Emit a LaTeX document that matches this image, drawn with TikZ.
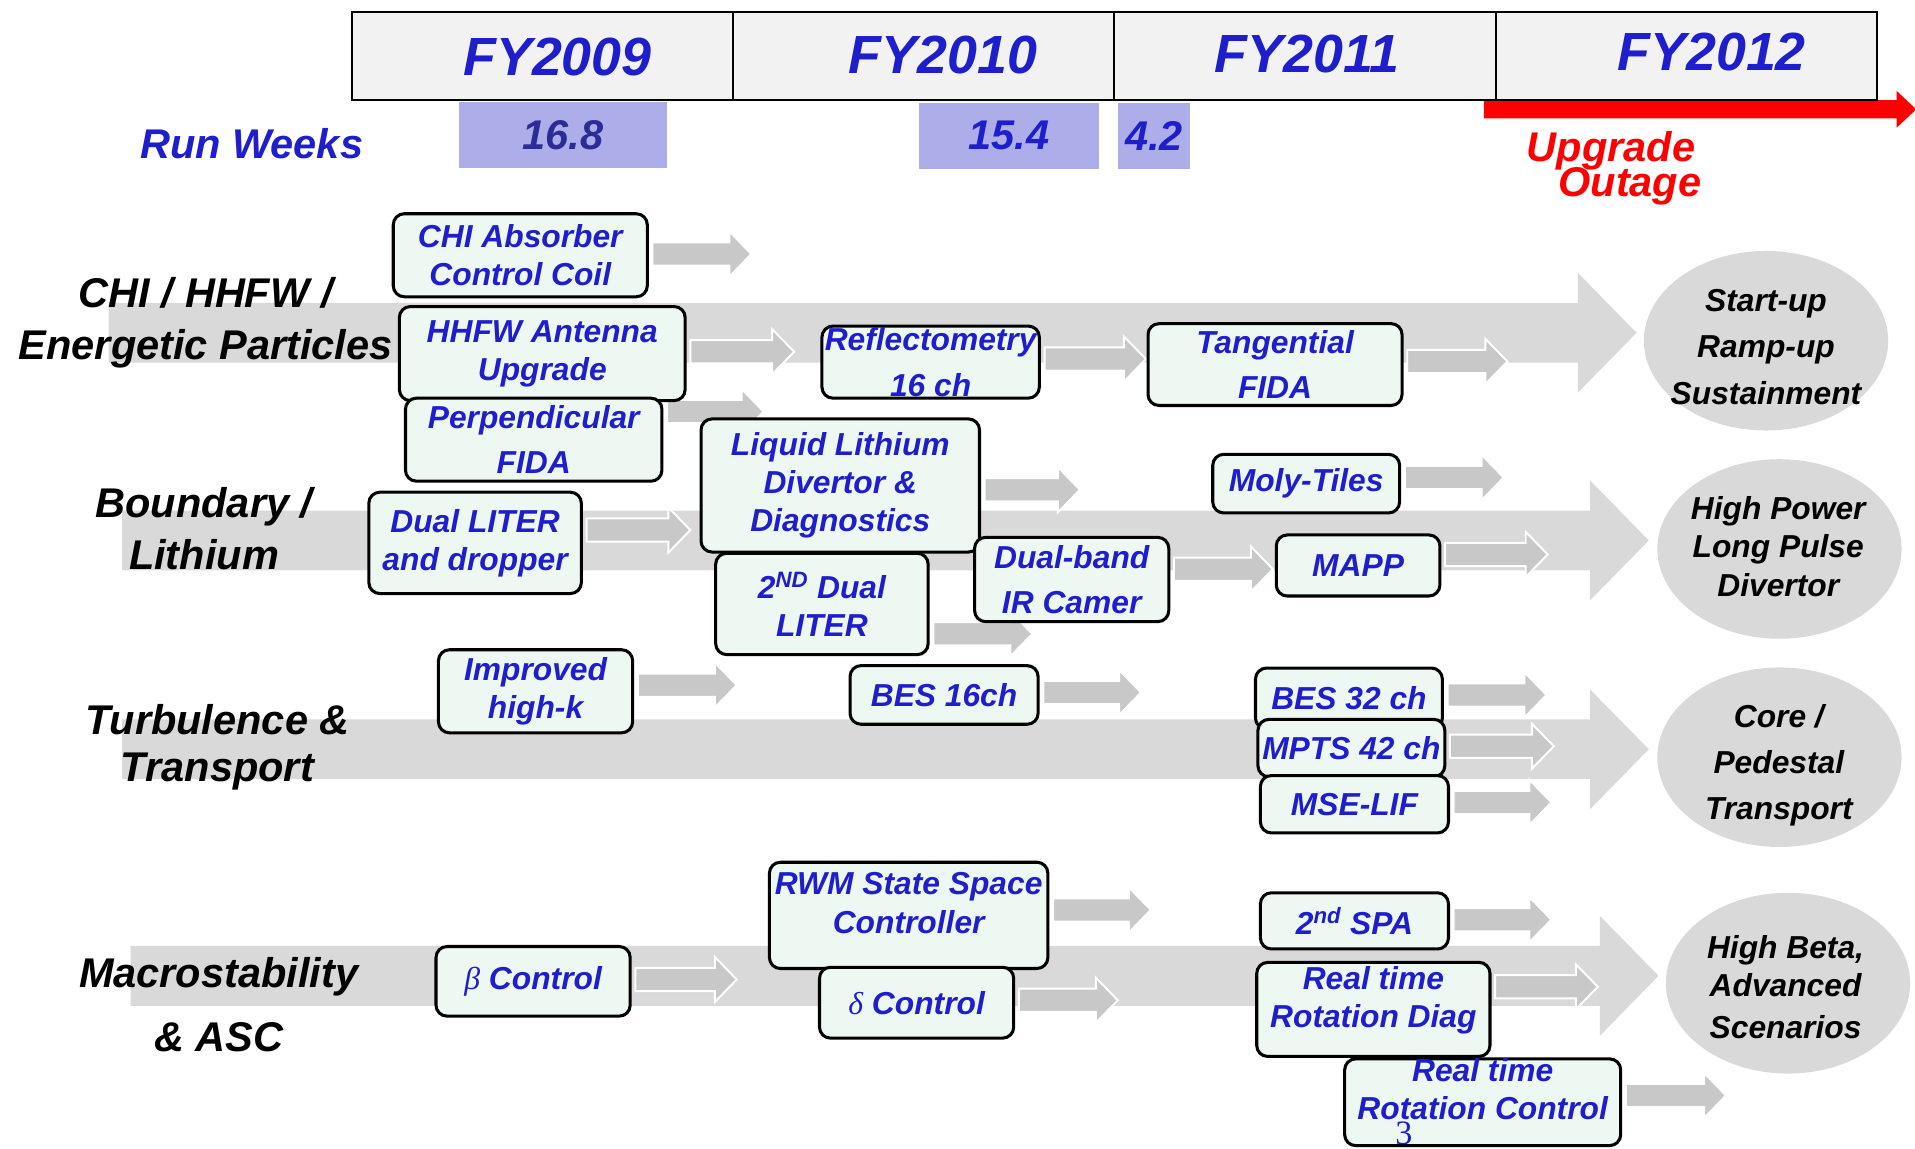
\documentclass[tikz,border=0pt]{standalone}
\usepackage{fontspec}
\setmainfont{Liberation Sans}
\newfontfamily\symbolfont{Liberation Serif}
\usepackage{xcolor}
\usepackage{tikz}
\usetikzlibrary{calc, backgrounds, shapes.geometric}

\definecolor{textblue}{RGB}{30,30,204}
\definecolor{weekblue}{RGB}{44,44,150}
\definecolor{weekfill}{RGB}{173,173,234}
\definecolor{headfill}{RGB}{242,242,242}
\definecolor{boxfill}{RGB}{238,248,242}
\definecolor{bandgray}{RGB}{217,217,217}
\definecolor{flowgray}{RGB}{200,200,200}
\definecolor{goalgray}{RGB}{217,217,217}

\tikzset{
  infobox/.style={draw=black, line width=2.5pt, fill=boxfill, rounded corners=9pt,
    inner sep=0pt, align=center, text=textblue,
    font=\bfseries\itshape\fontsize{26}{31}\selectfont},
  goal/.style={ellipse, fill=goalgray, inner sep=0pt},
  goaltext/.style={align=center, font=\bfseries\itshape\fontsize{26}{31.4}\selectfont},
  rowlabel/.style={align=center, font=\bfseries\itshape\fontsize{34}{42.4}\selectfont},
  fycell/.style={draw=black, line width=2pt, fill=headfill, minimum height=72pt, inner sep=0pt},
  fytext/.style={anchor=base, text=textblue, font=\bfseries\itshape\fontsize{44}{50}\selectfont},
  weekbox/.style={fill=weekfill, inner sep=0pt, minimum height=54pt,
    font=\bfseries\itshape\fontsize{34}{40}\selectfont},
  flowarr/.style={fill=flowgray, draw=white, line width=1.6pt},
}

% small grey block arrow: tail point, length
\newcommand{\flowarrow}[2]{%
  \filldraw[flowarr] #1 ++(0,-9.5) -- ++({#2-18},0) -- ++(0,-9) -- ++(18,18.5)
    -- ++(-18,18.5) -- ++(0,-9) -- ++({18-#2},0) -- cycle;}
% wide grey band: start x, axis y, tip x
\newcommand{\stageband}[3]{%
  \fill[bandgray] (#1,{#2-24.5}) -- ({#3-48},{#2-24.5}) -- ({#3-48},{#2-49}) -- (#3,#2)
    -- ({#3-48},{#2+49}) -- ({#3-48},{#2+24.5}) -- (#1,{#2+24.5}) -- cycle;}

\begin{document}
\begin{tikzpicture}[x=1pt, y=-1pt]
    \useasboundingbox (0,0) rectangle (1568,940);
    \clip (0,0) rectangle (1568,940);

    % boxes, row 1
    \node[infobox, minimum width=208pt, minimum height=68pt] (chiabs) at (426,209) {CHI Absorber\\Control Coil};
    \node[infobox, minimum width=234pt, minimum height=77pt] (hhfw) at (444,289.5) {HHFW Antenna\\Upgrade};
    \node[infobox, minimum width=210pt, minimum height=68pt] (perpfida) at (437,360) {Perpendicular\\[6pt]FIDA};
    \node[infobox, minimum width=178pt, minimum height=59pt] (reflect) at (762,296.5) {Reflectometry\\[6pt]16 ch};
    \node[infobox, minimum width=208pt, minimum height=67pt] (tangfida) at (1044,298.5) {Tangential\\[6pt]FIDA};

    % boxes, row 2
    \node[infobox, minimum width=174pt, minimum height=83pt] (dualliter) at (389,444.5) {Dual LITER\\and dropper};
    \node[infobox, minimum width=228pt, minimum height=109pt] (lldivertor) at (688,397.5) {Liquid Lithium\\Divertor \&\\Diagnostics};
    \node[infobox, minimum width=174pt, minimum height=83pt] (dualliter2) at (673,494.5) {2\textsuperscript{ND} Dual\\LITER};
    \node[infobox, minimum width=159pt, minimum height=69pt] (irband) at (877.5,474.5) {Dual-band\\[6pt]IR Camer};
    \node[infobox, minimum width=153pt, minimum height=48pt] (molytiles) at (1069.5,396) {Moly-Tiles};
    \node[infobox, minimum width=134pt, minimum height=50pt] (mapp) at (1112,463) {MAPP};

    % boxes, row 3
    \node[infobox, minimum width=159pt, minimum height=68pt] (highk) at (438.5,566) {Improved\\high-k};
    \node[infobox, minimum width=154pt, minimum height=48pt] (bes16) at (773,569) {BES 16ch};
    \node[infobox, minimum width=153pt, minimum height=50pt] (bes32) at (1104.5,572) {BES 32 ch};
    \node[infobox, minimum width=153pt, minimum height=47pt] (mpts) at (1106.5,612.5) {MPTS 42 ch};
    \node[infobox, minimum width=154pt, minimum height=47pt] (mself) at (1109,658.5) {MSE-LIF};

    % boxes, row 4
    \node[infobox, minimum width=159pt, minimum height=57pt] (betactrl) at (436.5,803.5) {{\symbolfont\mdseries\itshape β} Control};
    \node[infobox, minimum width=228pt, minimum height=87pt, text depth=21pt] (rwm) at (744,749.5) {RWM State Space\\[1pt]Controller};
    \node[infobox, minimum width=159pt, minimum height=58pt] (deltactrl) at (750.5,821) {{\symbolfont\mdseries\itshape δ} Control};
    \node[infobox, minimum width=154pt, minimum height=46pt] (spa2) at (1109,754) {2\textsuperscript{nd} SPA};
    \node[infobox, minimum width=191pt, minimum height=77pt, text depth=20pt] (rtdiag) at (1124.5,826.5) {Real time\\Rotation Diag};
    \node[infobox, minimum width=226pt, minimum height=71pt, text depth=21pt] (rtctrl) at (1214,902.5) {Real time\\Rotation Control};

    % bands and arrows behind the boxes
    \begin{pgfonlayer}{background}
        \stageband{89}{272.5}{1340}
        \stageband{100}{442.5}{1350}
        \stageband{100}{613.5}{1350}
        \stageband{107}{799}{1358}

        \flowarrow{($(chiabs.east)+(3,-1)$)}{81}
        \flowarrow{($(hhfw.east)+(3,-1.5)$)}{85}
        \flowarrow{($(perpfida.east)+(3,-23)$)}{79}
        \flowarrow{($(reflect.east)+(3,-2.5)$)}{83}
        \flowarrow{($(tangfida.east)+(3,-2.5)$)}{82}
        \flowarrow{($(dualliter.east)+(3,-10.5)$)}{85}
        \flowarrow{($(lldivertor.east)+(3,3.5)$)}{78}
        \flowarrow{($(dualliter2.east)+(3,24.5)$)}{81}
        \flowarrow{($(irband.east)+(3,-8.5)$)}{81}
        \flowarrow{($(molytiles.east)+(3,-5)$)}{81}
        \flowarrow{($(mapp.east)+(3,-9)$)}{84}
        \flowarrow{($(highk.east)+(3,-5)$)}{81}
        \flowarrow{($(bes16.east)+(3,-2)$)}{80}
        \flowarrow{($(bes32.east)+(3,-3)$)}{81}
        \flowarrow{($(mpts.east)+(3,-1.5)$)}{85}
        \flowarrow{($(mself.east)+(3,-1.5)$)}{80}
        \flowarrow{($(betactrl.east)+(3,-1.5)$)}{83}
        \flowarrow{($(rwm.east)+(3,-4.5)$)}{80}
        \flowarrow{($(deltactrl.east)+(3,-2)$)}{81}
        \flowarrow{($(spa2.east)+(3,-1)$)}{80}
        \flowarrow{($(rtdiag.east)+(3,-18.5)$)}{84}
        \flowarrow{($(rtctrl.east)+(3,-5.5)$)}{82}
    \end{pgfonlayer}

    % row labels
    \node[rowlabel] (lblchi) at (168.5,264.5) {CHI / HHFW /\\Energetic Particles};
    \node[rowlabel] (lblbound) at (167,433) {Boundary /\\Lithium};
    \node[rowlabel] (lblturb) at (178,611.5) {Turbulence \&\\[-4pt]Transport};
    \node[rowlabel] (lblmacro) at (179,822.5) {Macrostability\\[9.6pt]\& ASC};

    % goals
    \node[goal, minimum width=200pt, minimum height=147pt] (goalstart) at (1446,279) {};
    \node[goal, minimum width=200pt, minimum height=147pt] (goalpower) at (1457,449.5) {};
    \node[goal, minimum width=200pt, minimum height=147pt] (goalcore) at (1457,620) {};
    \node[goal, minimum width=200pt, minimum height=148pt] (goalbeta) at (1464,805) {};
    \node[goaltext] (txtstart) at (1446,284) {Start-up\\[6.6pt]Ramp-up\\[6.6pt]Sustainment};
    \node[goaltext] (txtpower) at (1456,447.5) {High Power\\Long Pulse\\Divertor};
    \node[goaltext] (txtcore) at (1456.5,626.5) {Core /\\[6.1pt]Pedestal\\[6.1pt]Transport};
    \node[goaltext] (txtbeta) at (1462,808) {High Beta,\\Advanced\\[2.7pt]Scenarios};

    % upgrade outage arrow
    \fill[red] (1215,82) -- (1553,82) -- (1553,74.5) -- (1569,89.5) -- (1553,104.5) -- (1553,97) -- (1215,97) -- cycle;

    % fiscal years
    \node[fycell, minimum width=312pt] (cell09) at (444,46) {};
    \node[fycell, minimum width=312pt] (cell10) at (756,46) {};
    \node[fycell, minimum width=313pt] (cell11) at (1068.5,46) {};
    \node[fycell, minimum width=312pt] (cell12) at (1381,46) {};
    \node[fytext] (fy09) at (456.5,62) {FY2009};
    \node[fytext] (fy10) at (772,60) {FY2010};
    \node[fytext] (fy11) at (1070,59.5) {FY2011};
    \node[fytext] (fy12) at (1401.5,58) {FY2012};

    % run weeks
    \node[anchor=base, text=textblue, font=\bfseries\itshape\fontsize{34}{40}\selectfont] (runweeks) at (206,130) {Run Weeks};
    \node[weekbox, minimum width=170pt, text=weekblue] (wk09) at (461,110.5) {16.8};
    \node[weekbox, minimum width=147pt, text=textblue] (wk10) at (826,111) {15.4};
    \node[weekbox, minimum width=59pt, text=textblue] (wk11) at (945,111) {4.2};
    \node[anchor=base, text=red, font=\bfseries\itshape\fontsize{34}{40}\selectfont] (upgrade) at (1319,132.5) {Upgrade};
    \node[anchor=base, text=red, font=\bfseries\itshape\fontsize{34}{40}\selectfont] (outage) at (1334.5,161) {Outage};

    % page number
    \node[anchor=base, text=textblue, font=\symbolfont\fontsize{28}{30}\selectfont] (pagenum) at (1149.5,937.5) {3};
\end{tikzpicture}
\end{document}
